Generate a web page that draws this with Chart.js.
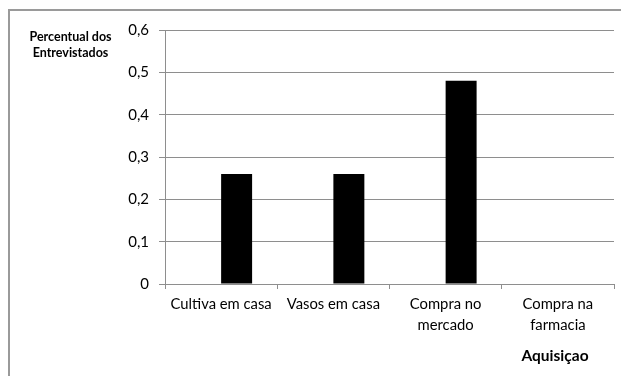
<!DOCTYPE html>
<html>
<head>
<meta charset="utf-8">
<script src="https://cdn.jsdelivr.net/npm/chart.js@4/dist/chart.umd.min.js"></script>
<style>
  html, body { margin: 0; padding: 0; background: #fff; }
  #wrap { width: 621px; height: 376px; position: relative; }
</style>
</head>
<body>
<div id="wrap"><canvas id="c" width="621" height="376"></canvas></div>
<script>
// Formas de aquisição das plantas
const categorias = [
  'Cultiva em casa',
  'Vasos em casa',
  ['Compra no', 'mercado'],
  ['Compra na', 'farmacia']
];
// Primeira série sem valores; a segunda traz os percentuais
const serieVazia = [null, null, null, null];
const percentual = [0.26, 0.26, 0.48, 0];
const ticksY = [0, 0.1, 0.2, 0.3, 0.4, 0.5, 0.6];

const tituloY = ['Percentual dos', 'Entrevistados'];
const tituloX = 'Aquisiçao';

const FONTE = 'Lato, "Open Sans", sans-serif';
const CINZA = '#8e8e8e';

// Moldura, título do eixo vertical e título do eixo horizontal
const decoracao = {
  id: 'decoracao',
  beforeDraw(chart) {
    const ctx = chart.ctx;
    ctx.save();
    ctx.strokeStyle = '#9a9a9a';
    ctx.lineWidth = 2;
    ctx.beginPath();
    ctx.moveTo(9, chart.height);
    ctx.lineTo(9, 10);
    ctx.lineTo(chart.width, 10);
    ctx.stroke();
    ctx.restore();
  },
  afterDraw(chart) {
    const ctx = chart.ctx;
    ctx.save();
    ctx.fillStyle = '#000';
    ctx.textAlign = 'center';
    ctx.textBaseline = 'middle';
    ctx.font = 'bold 12.5px ' + FONTE;
    tituloY.forEach((t, i) => ctx.fillText(t, 70.5, 37 + i * 16));
    ctx.font = 'bold 15.5px ' + FONTE;
    ctx.fillText(tituloX, 555, 356);
    ctx.restore();
  }
};

new Chart(document.getElementById('c'), {
  type: 'bar',
  data: {
    labels: categorias,
    datasets: [
      { data: serieVazia, backgroundColor: '#000' },
      { data: percentual, backgroundColor: '#000' }
    ]
  },
  options: {
    responsive: false,
    animation: false,
    devicePixelRatio: 1,
    layout: { padding: { top: 30, right: 7, left: 0, bottom: 0 } },
    datasets: { bar: { categoryPercentage: 0.552, barPercentage: 1 } },
    plugins: { legend: { display: false }, tooltip: { enabled: false } },
    scales: {
      x: {
        offset: true,
        grid: {
          offset: true,
          drawOnChartArea: false,
          drawTicks: true,
          tickLength: 5,
          color: CINZA
        },
        border: { color: CINZA },
        ticks: {
          color: '#000',
          font: { family: FONTE, size: 14.8, lineHeight: 1.4 },
          padding: 5,
          maxRotation: 0,
          autoSkip: false
        },
        afterFit(scale) { scale.height = 92; }
      },
      y: {
        min: 0,
        max: 0.6,
        afterBuildTicks(scale) {
          scale.ticks = ticksY.map(v => ({ value: v }));
        },
        grid: { color: CINZA, tickLength: 6 },
        border: { color: CINZA },
        ticks: {
          color: '#000',
          font: { family: FONTE, size: 15 },
          padding: 10,
          callback: v => (v === 0 ? '0' : v.toFixed(1).replace('.', ','))
        },
        afterFit(scale) { scale.width = 165; }
      }
    }
  },
  plugins: [decoracao]
});
</script>
</body>
</html>
